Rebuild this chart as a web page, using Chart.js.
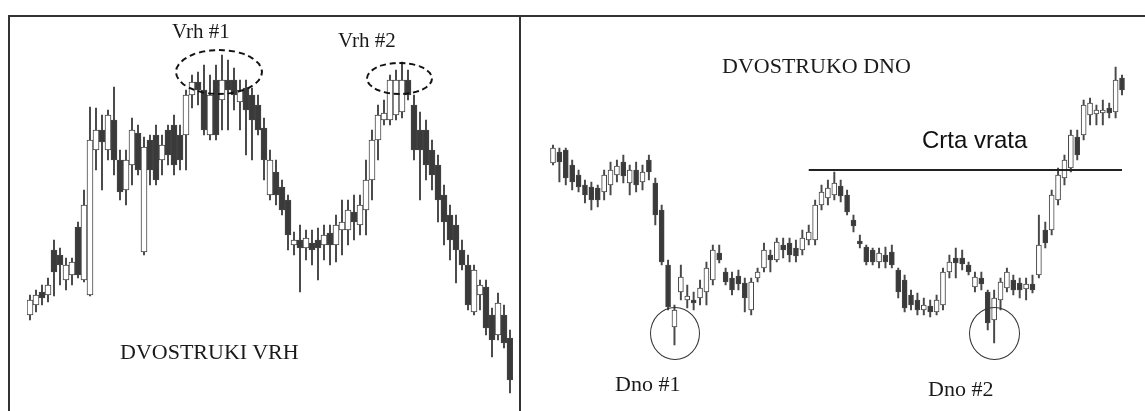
<!DOCTYPE html>
<html>
<head>
<meta charset="utf-8">
<script src="https://cdn.jsdelivr.net/npm/chart.js@4.4.1/dist/chart.umd.min.js"></script>
<style>
  html, body { margin: 0; padding: 0; background: #fff; }
  body { width: 1145px; height: 411px; position: relative; overflow: hidden; }
  .frame { position: absolute; background: #333; }
  .plot { position: absolute; top: 0; height: 411px; }
  .lbl { position: absolute; white-space: nowrap; color: #1a1a1a; line-height: 1; }
  .serif { font-family: "Liberation Serif", "Times New Roman", serif; font-size: 22px; }
  .sans { font-family: "Liberation Sans", Arial, sans-serif; font-size: 24px; color: #111; }
  .ring { position: absolute; border: 1.5px solid #333; border-radius: 50%; box-sizing: border-box; }
  .dash { border: 2px dashed #111; }
</style>
</head>
<body>
<div class="frame" style="left:8px;top:15px;width:1137px;height:2px"></div>
<div class="frame" style="left:8px;top:15px;width:2px;height:396px"></div>
<div class="frame" style="left:519px;top:15px;width:2px;height:396px"></div>

<div class="plot" style="left:10px;width:508px"><canvas id="left"></canvas></div>
<div class="plot" style="left:523px;width:622px"><canvas id="right"></canvas></div>

<div class="lbl serif" style="left:172px;top:21px;font-size:21px">Vrh #1</div>
<div class="lbl serif" style="left:338px;top:30px;font-size:21px">Vrh #2</div>
<div class="lbl serif" style="left:120px;top:341px">DVOSTRUKI VRH</div>
<div class="lbl serif" style="left:722px;top:55px">DVOSTRUKO DNO</div>
<div class="lbl serif" style="left:615px;top:373px">Dno #1</div>
<div class="lbl serif" style="left:928px;top:378px">Dno #2</div>
<div class="lbl sans" style="left:922px;top:128px">Crta vrata</div>

<div class="ring dash" style="left:175px;top:49px;width:88px;height:46px"></div>
<div class="ring dash" style="left:366px;top:62px;width:67px;height:33px"></div>
<div class="ring" style="left:650px;top:307px;width:50px;height:53px"></div>
<div class="ring" style="left:969px;top:307px;width:51px;height:53px"></div>

<script>
// left panel: double top
const leftOpen = [85,95,108,105,150,145,120,125,173,120, 105,250,270,250,280,240,210,235,267,148,
  260,265,240,270,275,265,265,305,318,310, 265,320,300,320,320,298,312,305,295,272,
  205,228,213,200,155,160,152,157,160,155, 167,155,170,170,188,175,190,220,260,280,
  280,285,288,320,295,270,270,250,235,205, 185,175,150,135,88,105,113,85,65,85, 62];
const leftHigh = [105,110,115,122,160,152,142,142,178,210, 293,292,285,290,313,250,250,282,275,263,
  265,275,265,275,285,275,310,325,328,335, 325,335,345,340,332,320,320,312,305,282,
  250,240,220,205,168,175,170,170,172,175, 175,185,200,200,205,205,240,270,295,300,
  325,330,338,330,305,288,280,260,245,215, 195,185,160,145,135,120,120,92,107,95, 70];
const leftLow = [80,88,95,98,104,115,110,115,122,118, 104,230,210,240,225,200,195,215,225,145,
  215,215,225,235,225,230,230,292,295,265, 260,260,270,270,290,270,245,240,265,220,
  200,195,185,150,145,108,140,135,120,140, 135,138,145,155,160,165,165,200,240,275,
  275,280,282,300,240,200,220,210,178,155, 140,117,130,90,85,90,65,43,60,52, 7];
const leftClose = [100,105,102,115,128,135,135,138,125,195, 260,270,258,285,240,208,240,270,230,253,
  230,220,255,245,235,240,305,318,310,270, 305,265,320,310,305,310,290,280,270,240,
  240,205,190,165,160,152,162,150,152,165, 155,175,178,190,178,195,220,260,285,287,
  320,320,320,305,250,250,235,225,200,178, 160,150,135,95,130,115,72,60,97,57, 20];

// right panel: double bottom
const rightOpen = [237,248,250,235,225,215,213,212,208,215, 225,238,217,230,218,240,217,190,135,73,
  108,100,100,102,108,120,147,128,122,124, 117,90,122,132,145,140,155,157,152,150,
  160,160,195,202,205,214,205,180,159,153, 150,138,145,148,130,120,105,100,90,94,
  88,95,128,142,142,135,113,122,108,80, 100,112,120,117,111,116,125,170,170,200,
  222,232,263,265,285,286,287,292,288,322];
const rightHigh = [255,252,252,240,230,220,218,215,230,238, 240,245,235,238,235,245,222,195,140,95,
  135,115,108,120,138,155,155,132,128,130, 122,122,132,157,150,162,162,162,160,170,
  175,200,215,220,228,220,210,185,165,155, 152,152,153,155,132,125,110,107,102,100,
  105,132,145,152,150,138,128,128,110,110, 122,132,125,122,122,125,185,178,210,232,
  245,270,270,300,302,295,300,297,333,325];
const rightLow = [235,218,215,210,208,197,190,193,200,205, 218,217,205,208,210,220,175,135,90,55,
  100,92,90,95,95,115,137,115,105,110, 88,85,118,128,128,138,142,138,138,145,
  155,155,190,195,200,198,185,168,152,135, 135,132,132,132,102,88,90,85,85,83,
  85,90,122,122,130,125,108,110,70,57, 90,108,105,102,100,107,122,152,165,195,
  215,228,240,260,275,275,275,282,282,305];
const rightClose = [252,238,222,218,213,205,200,200,225,230, 234,224,230,215,228,228,185,138,93,90,
  123,104,97,112,132,150,140,118,110,116, 102,118,128,150,140,158,150,145,144,162,
  168,195,208,212,217,204,188,174,156,138, 138,147,138,135,108,92,95,90,95,88,
  100,128,138,137,136,128,123,116,77,102, 118,128,110,110,116,110,155,157,205,225,
  240,265,245,295,297,290,290,287,320,310];

// neckline ("crta vrata") level and the candle where it starts
const neckLevel = 230;
const neckStart = 40;

function candleChart(id, open, high, low, close, padLeft, padRight, bodyWidth, extra) {
  const labels = open.map((_, i) => i + 1);
  const datasets = [
    {
      label: 'tijelo',
      data: open.map((o, i) => [o, close[i]]),
      backgroundColor: open.map((o, i) => close[i] >= o ? '#ffffff' : '#3a3a3a'),
      borderColor: '#444',
      borderWidth: 1,
      borderSkipped: false,
      barThickness: bodyWidth,
      grouped: false,
      order: 1
    },
    {
      label: 'sjena',
      data: low.map((l, i) => [l, high[i]]),
      backgroundColor: '#484848',
      borderWidth: 0,
      barThickness: 1.3,
      grouped: false,
      order: 2
    }
  ].concat(extra || []);

  return new Chart(document.getElementById(id), {
    type: 'bar',
    data: { labels, datasets },
    options: {
      responsive: true,
      maintainAspectRatio: false,
      animation: false,
      events: [],
      layout: { padding: { left: padLeft, right: padRight, top: 0, bottom: 0 } },
      plugins: { legend: { display: false }, tooltip: { enabled: false } },
      scales: {
        x: { display: false, offset: true },
        y: { display: false, min: -11, max: 400 }
      }
    }
  });
}

candleChart('left', leftOpen, leftHigh, leftLow, leftClose, 17, 5, 6);

const neckData = rightOpen.map((_, i) => i >= neckStart ? neckLevel : null);
candleChart('right', rightOpen, rightHigh, rightLow, rightClose, 26.8, 19.8, 5, [{
  type: 'line',
  label: 'crta vrata',
  data: neckData,
  borderColor: '#222',
  borderWidth: 2,
  pointRadius: 0,
  order: 0
}]);
</script>
</body>
</html>
